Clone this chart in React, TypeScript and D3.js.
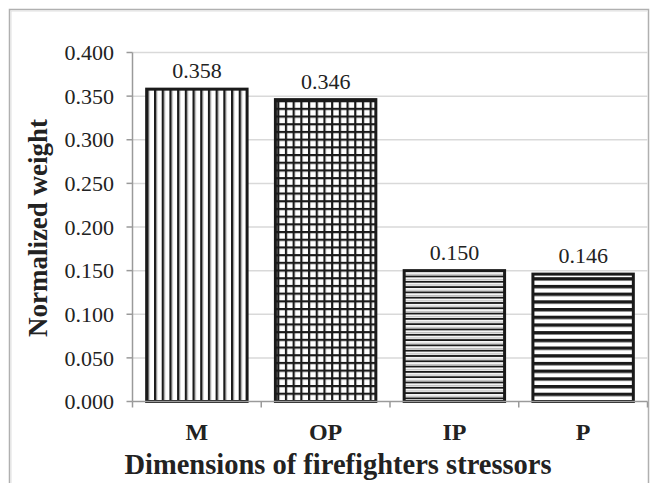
import React from "react";
import * as d3 from "d3";

const categories = ["M", "OP", "IP", "P"];
const values = [0.358, 0.346, 0.15, 0.146];
const valueLabels = ["0.358", "0.346", "0.150", "0.146"];
const yTicks = [0, 0.05, 0.1, 0.15, 0.2, 0.25, 0.3, 0.35, 0.4];
const patterns = ["pv", "pg", "ph", "pth"];

const W = 650;
const H = 483;
const FONT = "'Liberation Serif', 'Times New Roman', serif";

export default function App() {
  const x = d3.scaleBand<string>().domain(categories).range([132.5, 647.5]).paddingInner(0.22).paddingOuter(0.11);
  const y = d3.scaleLinear().domain([0, 0.4]).range([401.5, 52.5]);
  const step = x.step();
  const x0 = 132.5;

  return (
    <svg width={W} height={H} style={{ position: "absolute", left: 0, top: 0 }}>
      <defs>
        <pattern id="pv" patternUnits="userSpaceOnUse" width={7.7} height={10}>
          <rect width={7.7} height={10} fill="#fff" />
          <rect x={0} y={0} width={2.4} height={10} fill="#1a1a1a" />
          <rect x={2.4} y={0} width={0.8} height={10} fill="#999" />
        </pattern>
        <pattern id="pg" patternUnits="userSpaceOnUse" width={7.7} height={7.7}>
          <rect width={7.7} height={7.7} fill="#fff" />
          <rect x={0} y={0} width={2.2} height={7.7} fill="#1a1a1a" />
          <rect x={0} y={0} width={7.7} height={2.2} fill="#1a1a1a" />
        </pattern>
        <pattern id="ph" patternUnits="userSpaceOnUse" width={10} height={5.3}>
          <rect width={10} height={5.3} fill="#fff" />
          <rect x={0} y={0} width={10} height={1.8} fill="#1a1a1a" />
          <rect x={0} y={3.4} width={10} height={1.3} fill="#bdbdbd" />
        </pattern>
        <pattern id="pth" patternUnits="userSpaceOnUse" width={10} height={7.7}>
          <rect width={10} height={7.7} fill="#fff" />
          <rect x={0} y={0} width={10} height={3.4} fill="#1a1a1a" />
        </pattern>
      </defs>
      <rect x={0} y={0} width={W} height={H} fill="#fff" />
      {/* frame */}
      <path d={`M9.5,${H} V9.5 H648.5 V${H}`} fill="none" stroke="#b0b0b0" strokeWidth={1.5} />
      <path d={`M11,${H} V11 H647`} fill="none" stroke="#e0e0e0" strokeWidth={1} />
      {/* gridlines */}
      {yTicks.slice(1).map((t) => (
        <line key={t} x1={x0} x2={647.5} y1={y(t)} y2={y(t)} stroke="#d9d9d9" strokeWidth={1.5} />
      ))}
      {/* y axis */}
      <line x1={x0} x2={x0} y1={y(0.4)} y2={y(0)} stroke="#9a9a9a" strokeWidth={1.5} />
      {yTicks.map((t) => (
        <g key={t}>
          <line x1={x0 - 6} x2={x0} y1={y(t)} y2={y(t)} stroke="#9a9a9a" strokeWidth={1.5} />
          <text x={114} y={y(t)} dy="0.35em" textAnchor="end" fontFamily={FONT} fontSize={22} fill="#222">
            {d3.format(".3f")(t)}
          </text>
        </g>
      ))}
      {/* bars */}
      {categories.map((c, i) => (
        <g key={c}>
          <rect
            x={x(c)!}
            y={y(values[i])}
            width={x.bandwidth()}
            height={y(0) - y(values[i])}
            fill={`url(#${patterns[i]})`}
            stroke="#1a1a1a"
            strokeWidth={3}
          />
          <text
            x={x(c)! + x.bandwidth() / 2}
            y={y(values[i]) - 11}
            textAnchor="middle"
            fontFamily={FONT}
            fontSize={22}
            fill="#222"
          >
            {valueLabels[i]}
          </text>
          <text
            x={x(c)! + x.bandwidth() / 2}
            y={440}
            textAnchor="middle"
            fontFamily={FONT}
            fontSize={24}
            fontWeight="bold"
            fill="#222"
          >
            {c}
          </text>
        </g>
      ))}
      {/* x axis */}
      <line x1={x0} x2={647.5} y1={y(0)} y2={y(0)} stroke="#9a9a9a" strokeWidth={1.5} />
      {d3.range(categories.length + 1).map((k) => (
        <line key={k} x1={x0 + k * step} x2={x0 + k * step} y1={y(0)} y2={y(0) + 6} stroke="#9a9a9a" strokeWidth={1.5} />
      ))}
      {/* axis titles */}
      <text x={338} y={474} textAnchor="middle" fontFamily={FONT} fontSize={28.5} fontWeight="bold" fill="#222">
        Dimensions of firefighters stressors
      </text>
      <text
        transform={`translate(47,228) rotate(-90)`}
        textAnchor="middle"
        fontFamily={FONT}
        fontSize={27}
        fontWeight="bold"
        fill="#222"
      >
        Normalized weight
      </text>
    </svg>
  );
}
